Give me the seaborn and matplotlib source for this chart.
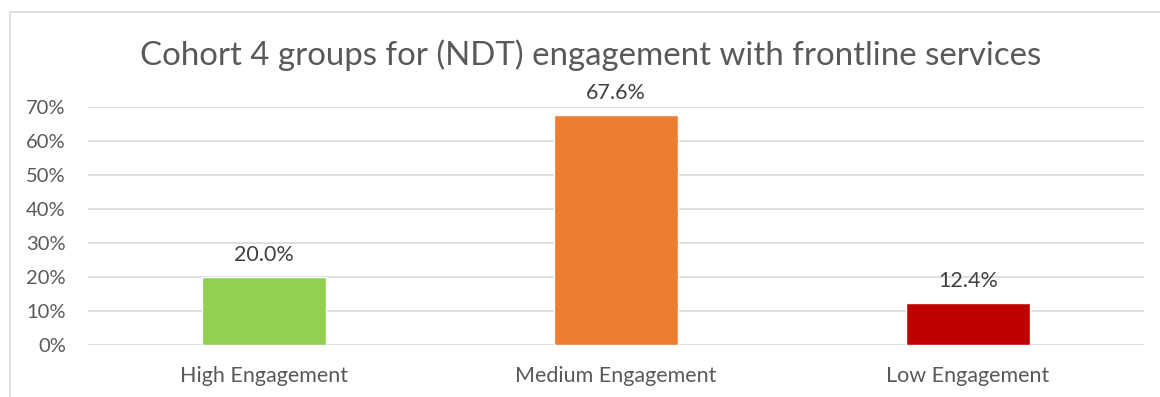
import matplotlib
matplotlib.use("Agg")
import matplotlib.pyplot as plt
import seaborn as sns
import pandas as pd
from matplotlib.patches import Rectangle

categories = ["High Engagement", "Medium Engagement", "Low Engagement"]
values = [20.0, 67.6, 12.4]
colors = ["#92D050", "#ED7D31", "#C00000"]
yticks = [0, 10, 20, 30, 40, 50, 60, 70]
title = "Cohort 4 groups for (NDT) engagement with frontline services"

sns.set_theme(style="white")
plt.rcParams['font.family'] = ['Lato', 'DejaVu Sans']

df = pd.DataFrame({"category": categories, "value": values})

fig = plt.figure(figsize=(11.6, 3.97), dpi=100)
ax = fig.add_axes([88/1160, 1-345/397, (1144-88)/1160, (345-107)/397])

sns.barplot(data=df, x="category", y="value", hue="category", palette=colors,
            width=0.355, legend=False, ax=ax, saturation=1)

ax.set_ylim(0, 70)
ax.set_xlim(-0.5, 2.5)
ax.set_yticks(yticks)
ax.set_yticklabels([f"{t}%" for t in yticks], fontsize=14.5, color="#595959")
ax.tick_params(axis="x", labelsize=15.5, labelcolor="#595959", length=0, pad=15)
ax.tick_params(axis="y", length=0, pad=16)
ax.set_xlabel("")
ax.set_ylabel("")
ax.yaxis.grid(True, color="#d9d9d9", linewidth=1.2)
ax.set_axisbelow(True)
for s in ax.spines.values():
    s.set_visible(False)

for i, v in enumerate(values):
    ax.annotate(f"{v:.1f}%", (i, v), xytext=(0, 8.5), textcoords="offset points",
                ha="center", va="bottom", fontsize=15.5, color="#404040")

fig.text(591/1160, 1-55/397, title, ha="center", va="center", fontsize=23.8, color="#595959")

fig.patches.append(Rectangle((10/1160, -0.1), 1.2, 1-12/397+0.1, transform=fig.transFigure,
                             fill=False, edgecolor="#d9d9d9", linewidth=1.2))

fig.savefig("out.png", dpi=100, facecolor="white")
